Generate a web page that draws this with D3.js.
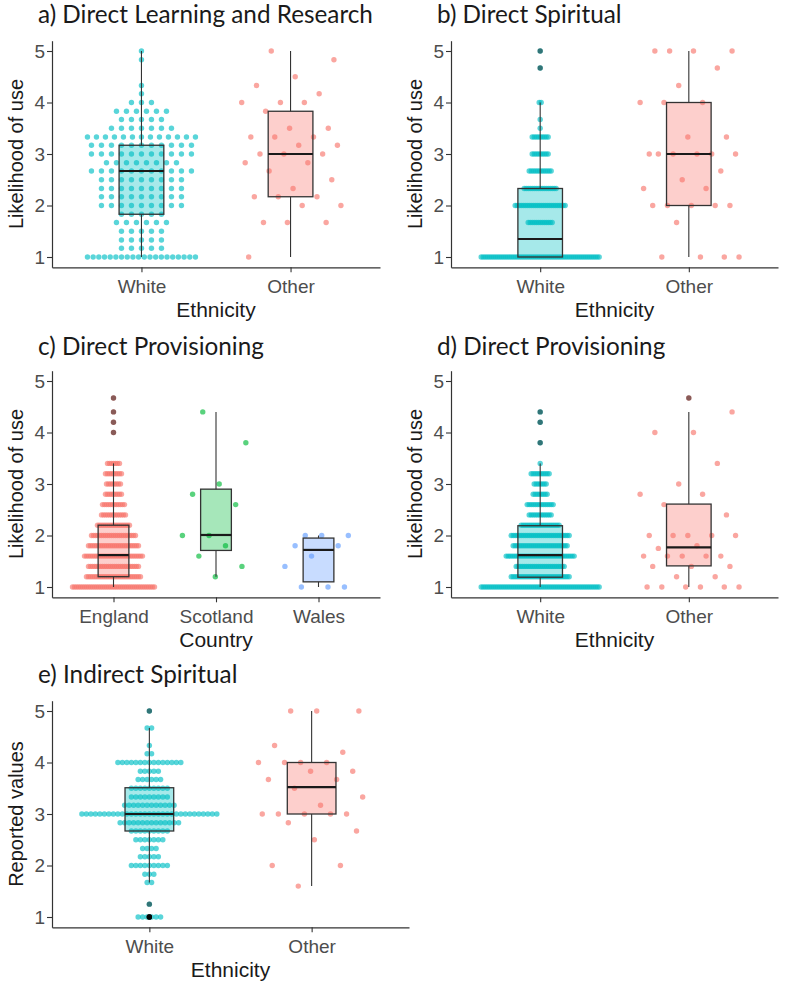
<!DOCTYPE html>
<html>
<head>
<meta charset="utf-8">
<script src="https://cdn.jsdelivr.net/npm/d3@7"></script>
<style>
  body { margin: 0; background: #fff; }
  svg { display: block; }
</style>
</head>
<body>
<svg id="chart" width="787" height="988"></svg>
<script>
// ---- data ----
var yTicks = [1, 2, 3, 4, 5];
var ethnicity = ["White", "Other"];
var country = ["England", "Scotland", "Wales"];

// white groups: [score, number of respondents]
var whiteLearning = [[1,20],[1.17,5],[1.33,5],[1.5,5],[1.67,6],[1.83,5],[2,9],[2.17,9],[2.33,9],[2.5,9],
	[2.67,11],[2.83,8],[3,11],[3.17,11],[3.33,13],[3.5,7],[3.67,5],[3.83,6],[4,3],[4.17,1],[4.33,1],[4.83,1],[5,1]];
var whiteSpiritual = [[1,60],[1.67,13],[2,26],[2.33,17],[2.67,12],[3,9],[3.33,9],[3.5,1],[3.67,1],[4,2],[4.67,1],[5,1]];
var englandProvisioning = [[1,42],[1.2,28],[1.4,26],[1.6,30],[1.8,26],[2,23],[2.2,17],[2.4,13],[2.6,12],[2.8,9],
	[3,8],[3.2,9],[3.4,7],[4,1],[4.2,1],[4.4,1],[4.67,1]];
var whiteProvisioning = [[1,60],[1.2,30],[1.4,25],[1.6,35],[1.8,28],[2,30],[2.2,20],[2.4,12],[2.6,14],[2.8,8],
	[3,7],[3.2,10],[3.4,1],[3.8,1],[4.2,1],[4.4,1]];
var whiteIndirect = [[1,6],[1.25,1],[1.67,2],[1.83,3],[2,9],[2.17,5],[2.33,4],[2.5,7],[2.67,9],[2.83,14],[3,31],
	[3.17,12],[3.33,9],[3.5,9],[3.67,6],[3.83,5],[4,15],[4.17,2],[4.33,1],[4.67,2],[5,1]];

// smaller groups: individual scores
var otherLearning = [5,4.83,4.5,4.33,4.17,4,4,4,3.83,3.5,3.5,3.33,3.33,3.33,3.17,3.17,3,3,3,2.83,2.83,2.67,2.5,
	2.33,2.17,2.17,2.17,2,2,1.67,1.67,1.67,1];
var otherSpiritual = [5,5,5,5,4.67,4.33,4,4,4,3.33,3.33,3,3,3,3,3,3,2.67,2.5,2.33,2.33,2,2,2,2,2,1.67,1,1,1,1];
var scotlandProvisioning = [4.4,3.8,3,2.8,2.6,2,2,1.8,1.6,1.4,1.2];
var walesProvisioning = [2,2,2,1.8,1.8,1.6,1.4,1,1,1];
var otherProvisioning = [4.67,4.4,4,4,3.4,3,2.8,2.8,2.6,2.4,2,2,2,2,2,1.8,1.75,1.6,1.6,1.6,1.6,1.6,1.4,1.4,1.4,
	1.2,1.2,1,1,1,1,1,1];
var otherIndirect = [5,5,5,4.33,4.2,4,4,4,4,3.83,3.83,3.67,3.67,3.5,3.33,3.17,3,3,3,3,3,2.83,2.67,2.5,2,2,1.6];

// box summaries: [lower whisker, q1, median, q3, upper whisker]
var boxLearning = [[1,1.83,2.67,3.17,5],[1,2.17,3,3.83,5]];
var boxSpiritual = [[1,1,1.35,2.33,4],[1,2,3,4,5]];
var boxCountry = [[1,1.2,1.62,2.2,3.4],[1.2,1.71,2.01,2.9,4.4],[1,1.1,1.72,1.95,2]];
var boxProvisioning = [[1,1.19,1.62,2.19,3.4],[1,1.41,1.77,2.61,4.4]];
var boxIndirect = [[1.67,2.67,3,3.51,4.67],[1.6,3,3.52,4,5]];

var teal = "#00BFC4", salmon = "#F8766D", green = "#00BA38", blue = "#619CFF";

// ---- layout ----
var panels = [
	{title: "a) Direct Learning and Research", cats: ethnicity, groups: [whiteLearning, otherLearning],
	 boxes: boxLearning, colours: [teal, salmon], xTitle: "Ethnicity", yTitle: "Likelihood of use",
	 left: 52, right: 380, top: 40.7, bottom: 267.3, titleY: 23, gap: 10, maxW: 108},
	{title: "b) Direct Spiritual", cats: ethnicity, groups: [whiteSpiritual, otherSpiritual],
	 boxes: boxSpiritual, colours: [teal, salmon], xTitle: "Ethnicity", yTitle: "Likelihood of use",
	 left: 451, right: 778, top: 40.7, bottom: 267.3, titleY: 23, gap: 2, maxW: 130},
	{title: "c) Direct Provisioning", cats: country, groups: [englandProvisioning, scotlandProvisioning, walesProvisioning],
	 boxes: boxCountry, colours: [salmon, green, blue], xTitle: "Country", yTitle: "Likelihood of use",
	 left: 52, right: 380, top: 370.7, bottom: 597.3, titleY: 355, gap: 2, maxW: 130},
	{title: "d) Direct Provisioning", cats: ethnicity, groups: [whiteProvisioning, otherProvisioning],
	 boxes: boxProvisioning, colours: [teal, salmon], xTitle: "Ethnicity", yTitle: "Likelihood of use",
	 left: 451, right: 778, top: 370.7, bottom: 597.3, titleY: 355, gap: 2, maxW: 130},
	{title: "e) Indirect Spiritual", cats: ethnicity, groups: [whiteIndirect, otherIndirect],
	 boxes: boxIndirect, colours: [teal, salmon], xTitle: "Ethnicity", yTitle: "Reported values",
	 left: 52, right: 409, top: 700.7, bottom: 927.3, titleY: 683, gap: 4.5, maxW: 140}
];

var svg = d3.select("#chart");
var dotR = 2.7;
var sansFont = "'Liberation Sans', Arial, sans-serif";

function frac(v) { return v - Math.floor(v); }

panels.forEach(function (p) {
	var g = svg.append("g");

	var x = d3.scalePoint()
		.domain(p.cats)
		.range([p.left, p.right])
		.padding(0.6);

	var y = d3.scaleLinear()
		.domain([0.8, 5.2])
		.range([p.bottom, p.top]);

	var step = x.step();
	var boxW = 0.3 * step;

	// points
	var dots = [], outliers = [];
	p.groups.forEach(function (grp, gi) {
		var cx = x(p.cats[gi]);
		var b = p.boxes[gi];
		var col = p.colours[gi];
		if (Array.isArray(grp[0])) {
			// centred rows of tied scores
			grp.forEach(function (row) {
				var n = row[1];
				var w = Math.min(p.maxW, (n - 1) * p.gap);
				var s = n > 1 ? w / (n - 1) : 0;
				for (var k = 0; k < n; k++) {
					dots.push({x: cx - w / 2 + k * s, v: row[0], c: col});
					if (row[0] < b[0] || row[0] > b[4]) outliers.push({x: cx, v: row[0]});
				}
			});
		} else {
			// horizontal jitter only, outliers stay on the centre line
			var spread = 0.34 * step;
			grp.forEach(function (v, i) {
				var u = frac(0.31 + i * 0.6180339887);
				var out = v < b[0] || v > b[4];
				dots.push({x: out ? cx : cx + (u - 0.5) * 2 * spread, v: v, c: col});
				if (out) outliers.push({x: cx, v: v});
			});
		}
	});

	g.append("g").selectAll("circle")
		.data(dots)
		.enter()
	  .append("circle")
		.attr("cx", function (d) { return d.x; })
		.attr("cy", function (d) { return y(d.v); })
		.attr("r", dotR)
		.attr("fill", function (d) { return d.c; })
		.attr("fill-opacity", 0.65);

	// boxes
	var boxG = g.append("g");
	p.boxes.forEach(function (b, gi) {
		var cx = x(p.cats[gi]);
		boxG.append("line")
			.attr("x1", cx).attr("x2", cx)
			.attr("y1", y(b[0])).attr("y2", y(b[1]))
			.attr("stroke", "#333").attr("stroke-width", 1.1);
		boxG.append("line")
			.attr("x1", cx).attr("x2", cx)
			.attr("y1", y(b[3])).attr("y2", y(b[4]))
			.attr("stroke", "#333").attr("stroke-width", 1.1);
		boxG.append("rect")
			.attr("x", cx - boxW / 2)
			.attr("y", y(b[3]))
			.attr("width", boxW)
			.attr("height", y(b[1]) - y(b[3]))
			.attr("fill", p.colours[gi])
			.attr("fill-opacity", 0.35)
			.attr("stroke", "#333")
			.attr("stroke-width", 1.3);
		boxG.append("line")
			.attr("x1", cx - boxW / 2).attr("x2", cx + boxW / 2)
			.attr("y1", y(b[2])).attr("y2", y(b[2]))
			.attr("stroke", "#1a1a1a").attr("stroke-width", 2.2);
	});

	g.append("g").selectAll("circle")
		.data(outliers)
		.enter()
	  .append("circle")
		.attr("cx", function (d) { return d.x; })
		.attr("cy", function (d) { return y(d.v); })
		.attr("r", dotR)
		.attr("fill", "#000")
		.attr("fill-opacity", 0.45);

	// axes
	var yAxis = g.append("g")
		.attr("transform", "translate(" + p.left + ",0)")
		.call(d3.axisLeft(y).tickValues(yTicks).tickFormat(d3.format("d"))
			.tickSize(5).tickSizeOuter(0).tickPadding(2));
	var xAxis = g.append("g")
		.attr("transform", "translate(0," + p.bottom + ")")
		.call(d3.axisBottom(x).tickSize(5).tickSizeOuter(0).tickPadding(7));

	[yAxis, xAxis].forEach(function (a) {
		a.select(".domain").attr("stroke", "#333").attr("stroke-width", 1.2);
		a.selectAll(".tick line").attr("stroke", "#333").attr("stroke-width", 1.1);
		a.selectAll(".tick text")
			.attr("fill", "#4d4d4d")
			.style("font-family", sansFont)
			.style("font-size", "19px");
	});

	g.append("text")
		.attr("x", (p.left + p.right) / 2)
		.attr("y", p.bottom + 50)
		.attr("text-anchor", "middle")
		.attr("fill", "#1a1a1a")
		.style("font-family", sansFont)
		.style("font-size", "21px")
		.text(p.xTitle);

	g.append("text")
		.attr("transform", "translate(" + (p.left - 29) + "," + ((p.top + p.bottom) / 2) + ") rotate(-90)")
		.attr("text-anchor", "middle")
		.attr("fill", "#1a1a1a")
		.style("font-family", sansFont)
		.style("font-size", "20px")
		.text(p.yTitle);

	g.append("text")
		.attr("x", p.left - 14)
		.attr("y", p.titleY)
		.attr("fill", "#1a1a1a")
		.style("font-family", "Lato, 'Open Sans', sans-serif")
		.style("font-size", "24.3px")
		.text(p.title);
});
</script>
</body>
</html>
